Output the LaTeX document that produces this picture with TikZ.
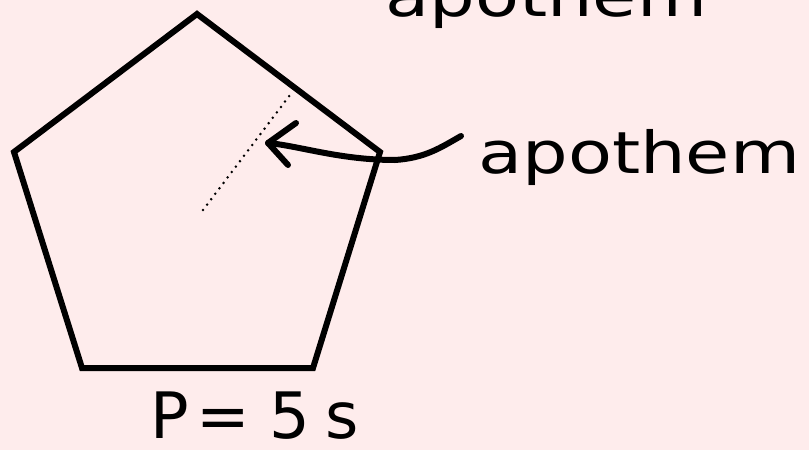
\documentclass[tikz,border=0pt]{standalone}
\usepackage{fontspec}
\setmainfont{DejaVu Sans}
\definecolor{bgpink}{RGB}{254,236,236}
\tikzset{
  edge/.style={line width=6pt, line join=miter, line cap=round},
  hand/.style={line width=6pt, line cap=round, line join=round},
  label/.style={inner sep=0pt, font=\fontsize{58}{58}\selectfont, xscale=1.24},
}
\begin{document}
\begin{tikzpicture}[x=1pt,y=-1pt]
\fill[bgpink] (0,0) rectangle (809,450);
\useasboundingbox (0,0) rectangle (809,450);
% pentagon
\coordinate (T) at (197,14);
\coordinate (R) at (380,152);
\coordinate (BR) at (313,368);
\coordinate (BL) at (82,368);
\coordinate (L) at (14,152);
\draw[edge] (T) -- (R) -- (BR) -- (BL) -- (L) -- cycle;
% apothem (dotted)
\coordinate (C) at (203,210);
\coordinate (M) at (290,95);
\draw[line width=2.8pt, dash pattern=on 0pt off 6.8pt, line cap=round] (C) -- (M);
% arrow
\coordinate (tip) at (268,143);
\coordinate (tail) at (461,136);
\draw[hand] (tail) .. controls (440,148) and (425,158) .. (395,160)
  .. controls (340,160) and (300,146) .. (tip);
\coordinate (b1) at (296,123);
\coordinate (b2) at (288,165);
\draw[hand] (b1) -- (tip) -- (b2);
% labels
\node[label, anchor=base west] (lab) at (478,173) {apothem};
\node[label, anchor=base west] (top) at (385,16) {apothem};
\node[inner sep=0pt, anchor=base west, font=\fontsize{64}{64}\selectfont] (per) at (150,438) {P\hspace{0.12em}=\hspace{0.3em}5\hspace{0.25em}s};
\end{tikzpicture}
\end{document}
